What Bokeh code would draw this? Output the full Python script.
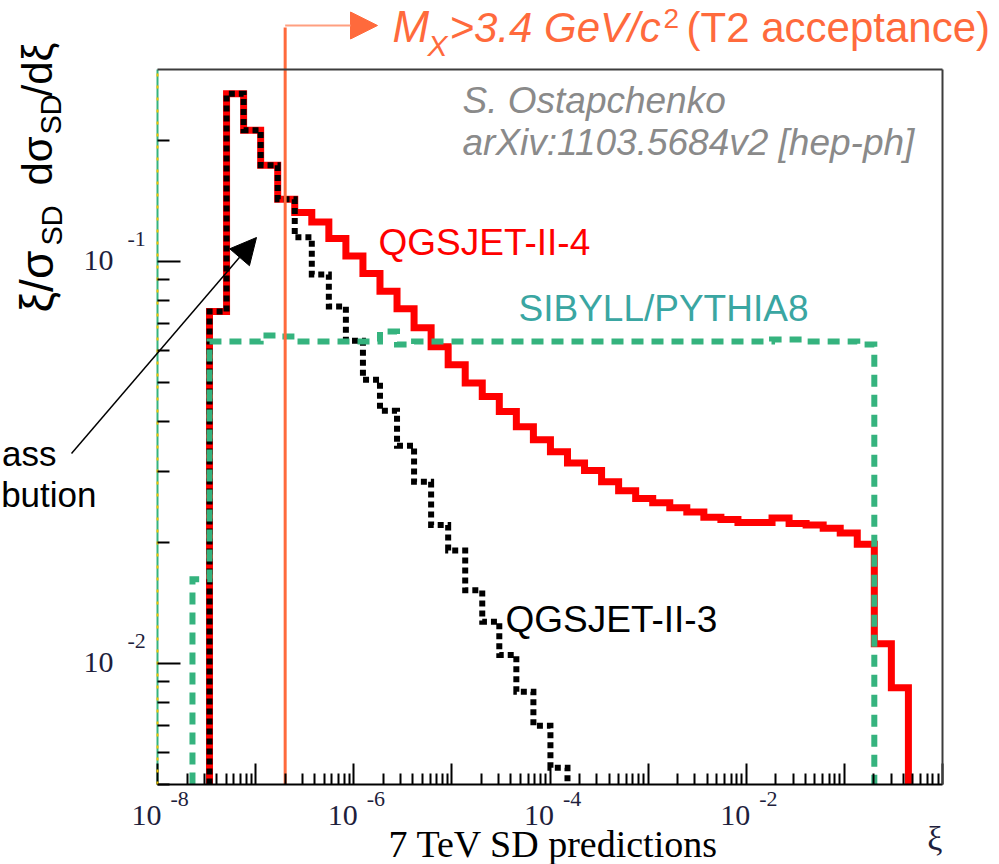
import numpy as np
from bokeh.plotting import figure
from bokeh.models import (Range1d, FixedTicker, Label, Arrow, NormalHead, LogAxis,
                          CustomJSTickFormatter)
from bokeh.embed import file_html
from bokeh.resources import INLINE

# ---------------------------------------------------------------------------
# Histogram binning: uniform in ln(xi), width 0.4
LN_XI_EDGES = [-17.6, -17.2, -16.8, -16.4, -16.0, -15.6, -15.2, -14.8, -14.4,
               -14.0, -13.6, -13.2, -12.8, -12.4, -12.0, -11.6, -11.2, -10.8,
               -10.4, -10.0, -9.6, -9.2, -8.8, -8.4, -8.0, -7.6, -7.2, -6.8,
               -6.4, -6.0, -5.6, -5.2, -4.8, -4.4, -4.0, -3.6, -3.2, -2.8,
               -2.4, -2.0, -1.6, -1.2, -0.8]

# xi/sigma_SD dsigma_SD/dxi per bin; *_FIRST is the index of the first edge
QGSJET_II_4_FIRST = 1
QGSJET_II_4 = [0.0750, 0.261, 0.212, 0.1735, 0.1428, 0.1322, 0.1253, 0.1139,
               0.1031, 0.0933, 0.0843, 0.0762, 0.0684, 0.0613, 0.0553, 0.0498,
               0.0461, 0.0423, 0.0388, 0.0360, 0.0336, 0.0315, 0.0302, 0.0283,
               0.0269, 0.0257, 0.0251, 0.0244, 0.0238, 0.0231, 0.0228, 0.0224,
               0.0224, 0.0230, 0.0223, 0.0221, 0.0217, 0.0211, 0.0198, 0.0112,
               0.0087]

QGSJET_II_3_FIRST = 1
QGSJET_II_3 = [0.0750, 0.261, 0.212, 0.1735, 0.1428, 0.1148, 0.0928, 0.0772,
               0.0635, 0.0508, 0.0425, 0.0348, 0.0283, 0.0221, 0.0191, 0.0152,
               0.0127, 0.0105, 0.0085, 0.0070, 0.0055]

SIBYLL_PYTHIA8_FIRST = 0
SIBYLL_PYTHIA8 = [0.0162, 0.0632, 0.0632, 0.0632, 0.0654, 0.0650, 0.0632,
                  0.0632, 0.0632, 0.0632, 0.0632, 0.0669, 0.0621, 0.0632,
                  0.0632, 0.0632, 0.0632, 0.0632, 0.0632, 0.0632, 0.0632,
                  0.0632, 0.0632, 0.0632, 0.0632, 0.0632, 0.0632, 0.0632,
                  0.0632, 0.0632, 0.0632, 0.0632, 0.0632, 0.0632, 0.0639,
                  0.0639, 0.0632, 0.0632, 0.0632, 0.0621]

# T2 acceptance boundary (M_X > 3.4 GeV/c^2)
XI_CUT = 2.0e-7

# axis decades and labelled exponents
X_DECADES = [1e-8, 1e-7, 1e-6, 1e-5, 1e-4, 1e-3, 1e-2, 1e-1, 1.0]
Y_DECADES = [1e-2, 1e-1]
X_LABEL_EXPONENTS = [-8, -6, -4, -2]
Y_LABEL_EXPONENTS = [-2, -1]

# ---------------------------------------------------------------------------
W, H = 999, 864
# pixel box of the histogram area inside the canvas
BOX_L, BOX_R, BOX_T, BOX_B = 157, 942, 69, 784
X_LO, X_HI = 1e-8, 1.0
Y_LO, Y_HI = 0.005, 0.3
# Label anchors land this fraction of the font size above the drawn baseline
BASELINE_LIFT = 0.39

RED = "#ff0000"
GREEN = "#35b37e"
TEAL = "#3aa6a2"
ORANGE = "#ff6a3c"
GREY = "#8a8a8a"
TICK_TEXT = "#1e1e3c"
SANS = "Liberation Sans"
SERIF = "Liberation Serif"


def data_x(px):
    f = (px - BOX_L) / (BOX_R - BOX_L)
    return 10 ** (np.log10(X_LO) + f * (np.log10(X_HI) - np.log10(X_LO)))


def data_y(py):
    f = (BOX_B - py) / (BOX_B - BOX_T)
    return 10 ** (np.log10(Y_LO) + f * (np.log10(Y_HI) - np.log10(Y_LO)))


def step_path(first_edge, contents, floor=Y_LO):
    """Outline of a histogram, dropping to the axis at both ends."""
    edges = np.exp(np.array(LN_XI_EDGES[first_edge:first_edge + len(contents) + 1]))
    xs, ys = [edges[0]], [floor]
    for lo, hi, c in zip(edges[:-1], edges[1:], contents):
        xs += [lo, hi]
        ys += [c, c]
    xs.append(edges[-1])
    ys.append(floor)
    return xs, ys


# the frame covers the whole canvas so that titles around the box stay visible
p = figure(width=W, height=H, x_axis_type="log", y_axis_type="log",
           x_range=Range1d(data_x(0), data_x(W)), y_range=Range1d(data_y(H), data_y(0)),
           x_axis_location=None, y_axis_location=None,
           output_backend="svg", toolbar_location=None, title=None, min_border=0)
p.xgrid.visible = False
p.ygrid.visible = False
p.background_fill_color = "white"
p.border_fill_color = "white"
p.outline_line_color = None


def box_axis(side, loc, bounds, ticker=None, line_color="black", tick_in=(0, 0), dash="solid"):
    ax = LogAxis(fixed_location=loc, bounds=bounds,
                 formatter=CustomJSTickFormatter(code="return ''"),
                 major_label_text_font_size="0px", major_label_standoff=0,
                 major_tick_out=0, minor_tick_out=0,
                 major_tick_in=tick_in[0], minor_tick_in=tick_in[1],
                 major_tick_line_color="black", minor_tick_line_color="black",
                 major_tick_line_width=2, minor_tick_line_width=2,
                 axis_line_color=line_color, axis_line_width=2, axis_line_dash=dash)
    if ticker is not None:
        ax.ticker = ticker
    else:
        ax.ticker = FixedTicker(ticks=[])
        ax.major_tick_line_color = None
        ax.minor_tick_line_color = None
    p.add_layout(ax, side)
    return ax


x_minor = [m * d for d in X_DECADES[:-1] for m in range(2, 10)]
y_minor = [m * d for d in (1e-3, 1e-2, 1e-1) for m in range(2, 10)
           if Y_LO <= m * d <= Y_HI]

# green edge under the dashed left axis line
p.line([X_LO, X_LO], [Y_LO, Y_HI], line_color=GREEN, line_width=2)

box_axis("below", Y_LO, (X_LO, X_HI), FixedTicker(ticks=X_DECADES, minor_ticks=x_minor),
         tick_in=(21, 11))
box_axis("left", X_LO, (Y_LO, Y_HI), FixedTicker(ticks=Y_DECADES, minor_ticks=y_minor),
         line_color="#f2c200", tick_in=(23, 12), dash="3 9")
box_axis("above", Y_HI, (X_LO, X_HI), line_color="#3c3c3c")
box_axis("right", X_HI, (Y_LO, Y_HI), line_color="#3c3c3c")

# histograms
xs, ys = step_path(QGSJET_II_4_FIRST, QGSJET_II_4)
p.line(xs, ys, line_color=RED, line_width=7, line_join="miter")
xs, ys = step_path(QGSJET_II_3_FIRST, QGSJET_II_3)
p.line(xs, ys, line_color="black", line_width=6, line_dash="6 4", line_join="miter")
xs, ys = step_path(SIBYLL_PYTHIA8_FIRST, SIBYLL_PYTHIA8)
p.line(xs, ys, line_color=GREEN, line_width=6, line_dash="12 8", line_join="miter")


def label(text, px, py, size, color="black", font=SANS, style="normal",
          align="left", angle=0.0):
    lift = BASELINE_LIFT * size
    if angle:
        px -= lift
    else:
        py -= lift
    p.add_layout(Label(x=data_x(px), y=data_y(py), text=text, text_font=font,
                       text_font_size=f"{size}px", text_color=color,
                       text_font_style=style, text_align=align,
                       text_baseline="alphabetic", angle=angle))


def tick_label(x, y, text, size, dx, dy, align):
    p.add_layout(Label(x=x, y=y, text=text, text_font=SERIF,
                       text_font_size=f"{size}px", text_color=TICK_TEXT,
                       text_align=align, text_baseline="alphabetic",
                       x_offset=dx, y_offset=dy + BASELINE_LIFT * size))


# model labels and reference
label("QGSJET-II-4", 378, 256, 37, RED)
label("SIBYLL/PYTHIA8", 518, 322, 37, TEAL)
label("QGSJET-II-3", 505, 633, 37)
label("S. Ostapchenko", 462, 114, 37, GREY, style="italic")
label("arXiv:1103.5684v2 [hep-ph]", 462, 156, 37, GREY, style="italic")

# acceptance boundary with arrow
p.segment(x0=[XI_CUT], y0=[Y_LO], x1=[XI_CUT], y1=[data_y(27)],
          line_color=ORANGE, line_width=3)
p.add_layout(Arrow(end=NormalHead(size=27, fill_color=ORANGE, line_color=ORANGE),
                   x_start=XI_CUT, y_start=data_y(25), x_end=data_x(377),
                   y_end=data_y(25), line_color="#ff9f80", line_width=2))
label("M", 392, 43, 44, ORANGE, style="italic")
label("X", 427, 57, 30, ORANGE, style="italic")
label(">3.4 GeV/c", 449, 43, 42, ORANGE, style="italic")
label("2", 663, 29, 28, ORANGE)
label("(T2 acceptance)", 686, 43, 42, ORANGE)

# mass distribution pointer (text runs off the left edge)
label("ass", 56, 467, 35, align="right")
label("bution", 96, 508, 35, align="right")
p.add_layout(Arrow(end=NormalHead(size=26, fill_color="black", line_color="black"),
                   x_start=data_x(71), y_start=data_y(453),
                   x_end=data_x(256), y_end=data_y(237),
                   line_color="black", line_width=1.5))

# tick labels (10 with raised exponent)
for e in X_LABEL_EXPONENTS:
    tick_label(10.0 ** e, Y_LO, "10", 30, 4, -43, "right")
    tick_label(10.0 ** e, Y_LO, str(e), 22, 13, -23, "left")
for e in Y_LABEL_EXPONENTS:
    tick_label(X_LO, 10.0 ** e, "10", 30, -44, -11, "right")
    tick_label(X_LO, 10.0 ** e, str(e), 22, -30, 14, "left")

# axis titles
label("7 TeV SD predictions", 553, 858, 38, font=SERIF, align="center")
label("\u03be", 942, 851, 34, TICK_TEXT, font=SERIF, align="right")

# rotated y title: xi/sigma_SD dsigma_SD/dxi
UP = np.pi / 2
label("\u03be/\u03c3", 54, 312, 46, angle=UP)
label("SD", 63, 245, 29, angle=UP)
label("d\u03c3", 53, 185, 42, angle=UP)
label("SD", 62, 134, 29, angle=UP)
label("/d\u03be", 53, 96, 42, angle=UP)

open("out.html", "w").write(file_html(p, INLINE))
